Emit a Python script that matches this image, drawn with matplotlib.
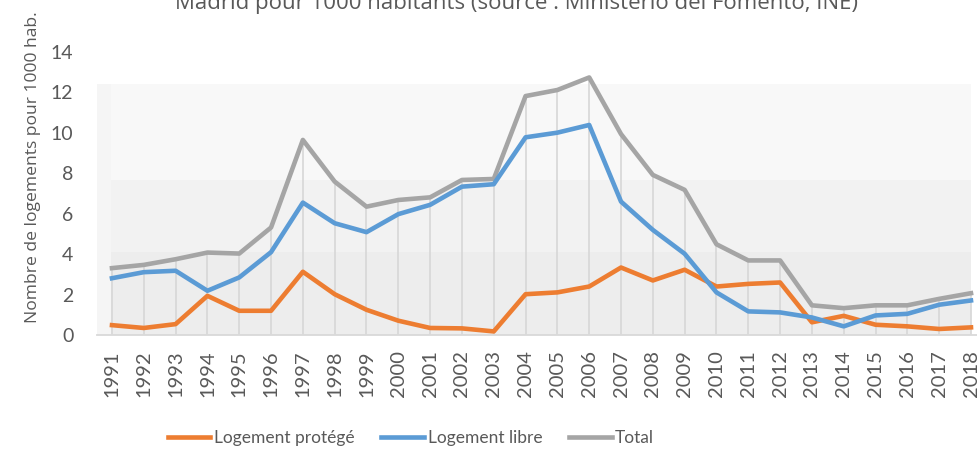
import numpy as np
import matplotlib
matplotlib.use("Agg")
import matplotlib.pyplot as plt

# Logements commencés à Madrid, pour 1000 habitants
annees = [str(a) for a in range(1991, 2019)]
protege = [0.49, 0.35, 0.54, 1.94, 1.20, 1.20, 3.13, 2.02, 1.25, 0.71,
           0.35, 0.33, 0.18, 2.02, 2.11, 2.40, 3.34, 2.70, 3.23, 2.40,
           2.53, 2.60, 0.63, 0.95, 0.51, 0.43, 0.30, 0.38]
libre = [2.81, 3.11, 3.18, 2.19, 2.85, 4.10, 6.55, 5.53, 5.09, 5.98,
         6.44, 7.34, 7.46, 9.78, 10.01, 10.39, 6.60, 5.20, 4.02, 2.11,
         1.17, 1.12, 0.87, 0.43, 0.97, 1.05, 1.50, 1.71]
total = [3.31, 3.47, 3.75, 4.08, 4.03, 5.32, 9.65, 7.59, 6.35, 6.68,
         6.81, 7.67, 7.72, 11.82, 12.12, 12.74, 9.94, 7.92, 7.18, 4.49,
         3.69, 3.69, 1.47, 1.33, 1.47, 1.47, 1.79, 2.07]
y_ticks = [0, 2, 4, 6, 8, 10, 12, 14]

ORANGE = "#ED7D31"
BLEU = "#5B9BD5"
GRIS = "#A5A5A5"
TEXTE = "#595959"

fig = plt.figure(figsize=(9.78, 4.54), dpi=100)
ax = fig.add_axes([0.0992, 0.262, 0.9008, 0.6235])
x = np.arange(len(annees))
ax.set_xlim(-0.47, 27.22)
ax.set_ylim(0, 14)

# fond dégradé de la zone de traçage (par bandes)
ax.fill_between([-0.02, 27.0], 0, 4.1, color="#EDEDED", lw=0, zorder=0)
ax.fill_between([-0.02, 27.0], 4.1, 7.66, color="#F2F2F2", lw=0, zorder=0)
ax.fill_between([-0.02, 27.0], 7.66, 12.44, color="#F8F8F8", lw=0, zorder=0)
ax.fill_between([-0.47, -0.02], 0, 12.44, color="#F5F5F5", lw=0, zorder=0)

# lignes de projection
ax.vlines(x, 0, total, color="#D9D9D9", lw=1.3, zorder=1)

lw = 3.3
ax.plot(x, protege, color=ORANGE, lw=lw, label="Logement protégé",
        solid_joinstyle="round", zorder=3)
ax.plot(x, libre, color=BLEU, lw=lw, label="Logement libre",
        solid_joinstyle="round", zorder=3)
ax.plot(x, total, color=GRIS, lw=lw, label="Total",
        solid_joinstyle="round", zorder=2)

for s in ["top", "right", "left"]:
    ax.spines[s].set_visible(False)
ax.spines["bottom"].set_color("#D9D9D9")
ax.spines["bottom"].set_linewidth(1.3)

ax.set_yticks(y_ticks)
ax.set_yticklabels([str(v) for v in y_ticks], family="Lato", fontsize=14,
                   color=TEXTE)
ax.set_xticks(x)
ax.set_xticklabels(annees, rotation=90, family="Lato", fontsize=14.5,
                   color=TEXTE)
ax.tick_params(axis="y", length=0, pad=17)
ax.tick_params(axis="x", length=0, pad=11)

fig.text(33 / 978, 1 - 167 / 454, "Nombre de logements pour 1000 hab.",
         rotation=90, ha="center", va="center", family="Open Sans",
         fontsize=12.6, color=TEXTE)
fig.text(517 / 978, 1 - 9 / 454,
         "Madrid pour 1000 habitants (source : Ministerio del Fomento, INE)",
         ha="center", va="baseline", family="Open Sans", fontsize=16,
         color=TEXTE)

leg = fig.legend(loc="center", bbox_to_anchor=(411 / 978, 1 - 438 / 454),
                 ncol=3, frameon=False, handlelength=2.45, handletextpad=0.2,
                 columnspacing=1.55, prop={"family": "Lato", "size": 12.5})
for t in leg.get_texts():
    t.set_color(TEXTE)

fig.savefig("out.png", dpi=100)
